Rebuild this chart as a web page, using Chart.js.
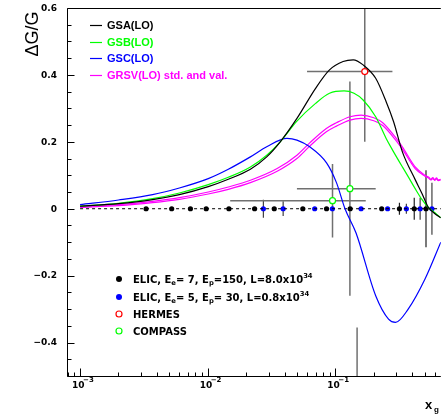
<!DOCTYPE html>
<html><head><meta charset="utf-8">
<script src="https://cdn.jsdelivr.net/npm/chart.js@4/dist/chart.umd.min.js"></script>
<style>html,body{margin:0;padding:0;background:#fff;overflow:hidden}</style>
</head><body>
<canvas id="c" width="446" height="414"></canvas>
<script>
// ---------- data ----------
const gsaX = [0.001,0.002,0.0037,0.006,0.0101,0.0145,0.0216,0.029,0.037,0.05,0.07,0.09,0.115,0.138,0.165,0.207,0.25,0.286,0.335,0.422,0.478,0.532,0.603,0.67];
const gsaY = [0.008,0.015,0.027,0.042,0.066,0.088,0.118,0.155,0.20,0.27,0.36,0.415,0.44,0.445,0.43,0.39,0.32,0.26,0.17,0.087,0.045,0.006,-0.015,-0.027];
const gsbX = [0.001,0.002,0.0037,0.006,0.0101,0.0145,0.0216,0.029,0.037,0.05,0.07,0.09,0.117,0.14,0.165,0.207,0.25,0.28,0.335,0.372,0.422,0.478,0.532,0.603,0.67];
const gsbY = [0.007,0.016,0.03,0.047,0.072,0.094,0.125,0.16,0.20,0.262,0.315,0.345,0.352,0.345,0.325,0.275,0.21,0.176,0.125,0.096,0.06,0.027,0.005,-0.012,-0.027];
const gscX = [0.001,0.002,0.0037,0.006,0.0101,0.0145,0.0216,0.029,0.0418,0.05,0.063,0.0853,0.102,0.119,0.145,0.207,0.261,0.296,0.372,0.504,0.67];
const gscY = [0.012,0.026,0.042,0.062,0.09,0.118,0.155,0.185,0.21,0.205,0.185,0.137,0.078,0.0,-0.072,-0.26,-0.33,-0.34,-0.30,-0.21,-0.10];
const grsvX = [0.001,0.002,0.0037,0.006,0.0101,0.0145,0.0216,0.035,0.05,0.063,0.085,0.102,0.13,0.159,0.2,0.235,0.3,0.335,0.422,0.504,0.54,0.56,0.58,0.6,0.62,0.64,0.67];
const grsvStdY = [0.006,0.012,0.022,0.033,0.05,0.065,0.085,0.12,0.16,0.197,0.24,0.257,0.275,0.28,0.272,0.257,0.21,0.185,0.125,0.10,0.094,0.088,0.093,0.087,0.092,0.086,0.088];
const grsvValY = [0.004,0.009,0.018,0.028,0.044,0.058,0.078,0.112,0.15,0.187,0.23,0.247,0.265,0.27,0.263,0.249,0.203,0.178,0.12,0.097,0.091,0.086,0.09,0.085,0.089,0.084,0.086];

const zeroLineX = [0.001, 1.0];

const elicBlackX = [0.00329,0.00522,0.00732,0.00973,0.01466,0.0233,0.0332,0.0556,0.0853,0.1306,0.2307,0.3177,0.415,0.513];
const elicBlackErr = [0,0,0,0,0,0,0,0,0,0,0,0.018,0.033,0.115];
const elicBlueX = [0.0273,0.039,0.0689,0.0948,0.159,0.2566,0.36,0.4615,0.571];
const elicBlueErr = [0.027,0.022,0,0,0,0,0.015,0.033,0.078];

const hermesX = [0.17], hermesY = [0.41], hermesErr = [0.21], hermesXLo = [0.060], hermesXHi = [0.28];
const compassX = [0.095,0.13], compassY = [0.024,0.06], compassErr = [0.11,0.32], compassXLo = [0.015,0.05], compassXHi = [0.173,0.207];
const extraBarX = [0.148, 0.148], extraBarY = [-0.355, -0.52];

const yTickLabels = ['0.6','0.4','0.2','0','-0.2','-0.4'];
const yTickValues = [0.6,0.4,0.2,0,-0.2,-0.4];
const xTickValues = [0.001,0.01,0.1];
const xTickExps = ['-3','-2','-1'];

const topLegend = ['GSA(LO)','GSB(LO)','GSC(LO)','GRSV(LO) std. and val.'];
const bottomLegend = [
  [['ELIC, E',0],['e',1],['= 7, E',0],['p',1],['=150, L=8.0x10',0],['34',2]],
  [['ELIC, E',0],['e',1],['= 5, E',0],['p',1],['= 30, L=0.8x10',0],['34',2]],
  [['HERMES',0]],
  [['COMPASS',0]]
];

// ---------- helpers ----------
const pts = (xs, ys) => xs.map((v,i)=>({x:v, y:ys[i]}));
const zeros = xs => xs.map(v=>({x:v, y:0}));

const BLACK='#000000', GREEN='#00ff00', BLUE='#0000ff', MAGENTA='#ff00ff', RED='#ff0000';

function curve(label, xs, ys, color){
  return {type:'line', label, data:pts(xs,ys), borderColor:color, borderWidth:1.2, pointRadius:0,
    cubicInterpolationMode:'monotone', fill:false};
}

const datasets = [
  curve('GSA(LO)', gsaX, gsaY, BLACK),
  curve('GSB(LO)', gsbX, gsbY, GREEN),
  curve('GSC(LO)', gscX, gscY, BLUE),
  curve('GRSV(LO) std.', grsvX, grsvStdY, MAGENTA),
  curve('GRSV(LO) val.', grsvX, grsvValY, MAGENTA),
  {type:'line', label:'zero', data:zeros(zeroLineX), borderColor:BLACK, borderWidth:1, borderDash:[3,3], pointRadius:0},
  {type:'line', label:'bar', data:pts(extraBarX, extraBarY), borderColor:'#707070', borderWidth:1.5, pointRadius:0},
  {type:'scatter', label:'ELIC1', data:zeros(elicBlackX), showLine:false, pointRadius:2.6, pointBackgroundColor:BLACK, pointBorderColor:BLACK, pointBorderWidth:0,
    yErr:elicBlackErr, errColor:'#202020', errWidth:1.2},
  {type:'scatter', label:'ELIC2', data:zeros(elicBlueX), showLine:false, pointRadius:2.6, pointBackgroundColor:BLUE, pointBorderColor:BLUE, pointBorderWidth:0,
    yErr:elicBlueErr, errColor:'#404040', errWidth:1.2},
  {type:'scatter', label:'HERMES', data:pts(hermesX, hermesY), showLine:false, pointRadius:3, pointBackgroundColor:'#fff', pointBorderColor:RED, pointBorderWidth:1.2,
    yErr:hermesErr, xLo:hermesXLo, xHi:hermesXHi, errColor:'#707070', errWidth:1.5},
  {type:'scatter', label:'COMPASS', data:pts(compassX, compassY), showLine:false, pointRadius:3, pointBackgroundColor:'#fff', pointBorderColor:GREEN, pointBorderWidth:1.2,
    yErr:compassErr, xLo:compassXLo, xHi:compassXHi, errColor:'#707070', errWidth:1.5}
];

// ---------- plugins ----------
const errPlugin = {
  id:'errbars',
  beforeDatasetsDraw(chart){
    const {ctx, chartArea:a, scales:{x,y}} = chart;
    ctx.save();
    ctx.beginPath(); ctx.rect(a.left, a.top, a.right-a.left, a.bottom-a.top); ctx.clip();
    chart.data.datasets.forEach(ds=>{
      if(!ds.yErr) return;
      ctx.strokeStyle = ds.errColor; ctx.lineWidth = ds.errWidth;
      ds.data.forEach((p,i)=>{
        const px = x.getPixelForValue(p.x);
        ctx.beginPath();
        if(ds.yErr[i]>0){
          ctx.moveTo(px, y.getPixelForValue(p.y+ds.yErr[i]));
          ctx.lineTo(px, y.getPixelForValue(p.y-ds.yErr[i]));
        }
        if(ds.xLo){
          const py = y.getPixelForValue(p.y);
          ctx.moveTo(x.getPixelForValue(ds.xLo[i]), py);
          ctx.lineTo(x.getPixelForValue(ds.xHi[i]), py);
        }
        ctx.stroke();
      });
    });
    ctx.restore();
  }
};

function richText(ctx, parts, x, y, size, family, color){
  let cx = x;
  ctx.fillStyle = color; ctx.textBaseline='alphabetic'; ctx.textAlign='left';
  parts.forEach(([t,m])=>{
    const s = m===0 ? size : size*0.68;
    ctx.font = 'bold '+s+'px '+family;
    const dy = m===1 ? size*0.22 : (m===2 ? -size*0.42 : 0);
    ctx.fillText(t, cx, y+dy);
    cx += ctx.measureText(t).width;
  });
}

const axesPlugin = {
  id:'axesDraw',
  afterDatasetsDraw(chart){
    const {ctx, chartArea:a, scales:{x,y}} = chart;
    ctx.save();
    ctx.strokeStyle='#000'; ctx.lineWidth=1;
    ctx.beginPath();
    const L = Math.round(a.left)+0.5, T = Math.round(a.top)+0.5, B = Math.round(a.bottom)+0.5;
    ctx.moveTo(L, B); ctx.lineTo(L, T); ctx.lineTo(a.right, T);
    ctx.moveTo(L, B); ctx.lineTo(a.right, B);
    for(let k=-10;k<=12;k++){
      const v = k*0.05;
      const py = Math.round(y.getPixelForValue(v))+0.5;
      const len = (k%4===0) ? 7 : 4;
      ctx.moveTo(L, py); ctx.lineTo(L+len, py);
    }
    for(let d=-4; d<=0; d++){
      for(let m=1;m<=9;m++){
        const v = m*Math.pow(10,d);
        if(v < x.min || v > x.max) continue;
        const px = Math.round(x.getPixelForValue(v))+0.5;
        const len = m===1 ? 8 : 4;
        ctx.moveTo(px, B); ctx.lineTo(px, B-len);
      }
    }
    ctx.stroke();
    ctx.fillStyle='#000';
    ctx.font='bold 9px "DejaVu Sans"';
    ctx.textAlign='right'; ctx.textBaseline='middle';
    yTickValues.forEach((v,i)=>{
      ctx.fillText(yTickLabels[i].replace('-','\u2212'), 57, y.getPixelForValue(v)+0.5);
    });
    xTickValues.forEach((v,i)=>{
      const px = x.getPixelForValue(v);
      ctx.font='bold 9px "DejaVu Sans"';
      ctx.textAlign='left'; ctx.textBaseline='alphabetic';
      ctx.fillText('10', px-8, 388);
      ctx.font='bold 7px "DejaVu Sans"';
      ctx.fillText(xTickExps[i].replace('-','\u2212'), px+3, 382);
    });
    ctx.save();
    ctx.translate(38, 34); ctx.rotate(-Math.PI/2);
    ctx.font='18px "Liberation Sans"'; ctx.textAlign='center'; ctx.textBaseline='alphabetic';
    ctx.fillText('\u0394G/G', 0, 0);
    ctx.restore();
    ctx.font='bold 13px "Liberation Sans"'; ctx.textAlign='left'; ctx.textBaseline='alphabetic';
    ctx.fillText('x', 425, 409);
    ctx.font='bold 8px "Liberation Sans"';
    ctx.fillText('g', 434, 412);

    const cols = [BLACK, GREEN, BLUE, MAGENTA];
    const ly = [25, 42, 58, 75];
    topLegend.forEach((t,i)=>{
      ctx.strokeStyle = cols[i]; ctx.lineWidth=1.2;
      ctx.beginPath(); ctx.moveTo(90, ly[i]+0.5); ctx.lineTo(102, ly[i]+0.5); ctx.stroke();
      ctx.fillStyle = cols[i];
      ctx.font='bold 11px "Liberation Sans"'; ctx.textAlign='left'; ctx.textBaseline='middle';
      ctx.fillText(t, 107, ly[i]+0.5);
    });
    const by = [279, 297, 314, 331];
    const mk = [[BLACK,true],[BLUE,true],[RED,false],[GREEN,false]];
    bottomLegend.forEach((parts,i)=>{
      ctx.beginPath(); ctx.arc(119, by[i], 3, 0, Math.PI*2);
      if(mk[i][1]){ ctx.fillStyle = mk[i][0]; ctx.fill(); }
      else { ctx.strokeStyle = mk[i][0]; ctx.lineWidth=1.2; ctx.stroke(); }
      richText(ctx, parts, 133, by[i]+3.6, 10, '"DejaVu Sans"', '#000');
    });
    ctx.restore();
  }
};

new Chart(document.getElementById('c'), {
  data:{datasets},
  options:{
    responsive:false, animation:false, devicePixelRatio:1,
    layout:{padding:{top:8,right:0,left:0,bottom:0}},
    plugins:{legend:{display:false}, tooltip:{enabled:false}},
    scales:{
      x:{type:'logarithmic', min:0.00079, max:0.67,
         ticks:{display:false}, grid:{display:false}, border:{display:false},
         afterFit(s){ s.height = 38; }},
      y:{type:'linear', min:-0.5, max:0.6,
         ticks:{display:false}, grid:{display:false}, border:{display:false},
         afterFit(s){ s.width = 67; }}
    }
  },
  plugins:[errPlugin, axesPlugin]
});
</script>
</body></html>
